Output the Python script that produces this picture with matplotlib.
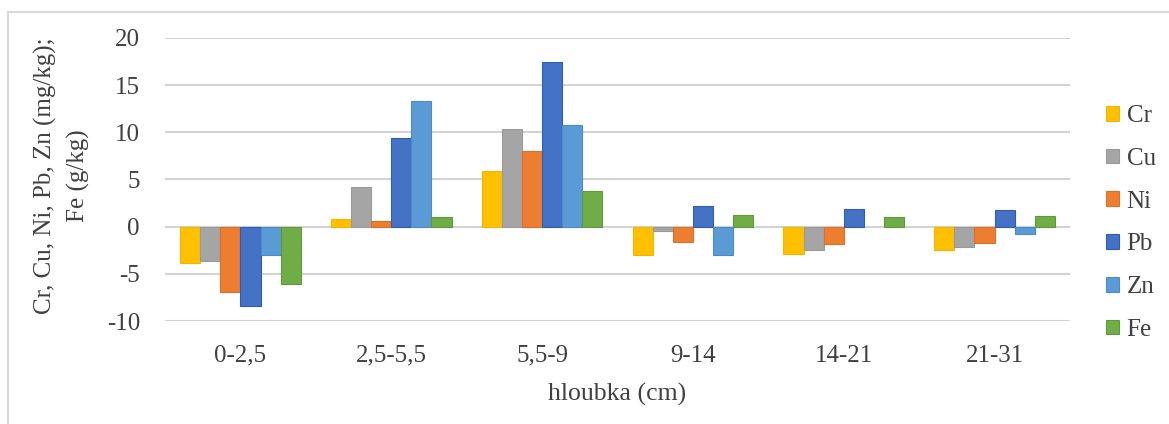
import numpy as np
import matplotlib
matplotlib.use("Agg")
import matplotlib.pyplot as plt
from matplotlib.lines import Line2D

# hloubkové intervaly a odchylky prvků
hloubky = ["0-2,5", "2,5-5,5", "5,5-9", "9-14", "14-21", "21-31"]
prvky = ["Cr", "Cu", "Ni", "Pb", "Zn", "Fe"]
cr = [-3.85, 0.77, 5.95, -3.0, -2.93, -2.46]
cu = [-3.64, 4.2, 10.35, -0.5, -2.46, -2.15]
ni = [-6.9, 0.55, 8.0, -1.58, -1.83, -1.72]
pb = [-8.4, 9.4, 17.5, 2.18, 1.86, 1.76]
zn = [-2.96, 13.3, 10.8, -3.0, 0.0, -0.83]
fe = [-6.04, 0.98, 3.78, 1.19, 0.98, 1.08]
hodnoty = [cr, cu, ni, pb, zn, fe]

barvy = ["#FFC000", "#A5A5A5", "#ED7D31", "#4472C4", "#5B9BD5", "#70AD47"]
okraje = ["#F2B600", "#9A9A9A", "#DF6F25", "#2F5DAF", "#4A8BC8", "#5F9A3A"]

plt.rcParams["font.family"] = ["Liberation Serif", "DejaVu Serif"]
plt.rcParams["axes.unicode_minus"] = False
fs = 18
txt = "#404040"

fig = plt.figure(figsize=(11.69, 4.24), dpi=100)
ax = fig.add_axes([165 / 1169, 1 - 321 / 424, 905 / 1169, 283 / 424])

x = np.arange(len(hloubky))
w = 1 / 7.5
for i, (nazev, data) in enumerate(zip(prvky, hodnoty)):
    sl = ax.bar(x + (i - 2.5) * w, data, width=w, color=barvy[i], edgecolor=okraje[i],
                linewidth=0.8, label=nazev, zorder=3)
    for b in sl:
        if b.get_height() == 0:
            b.set_edgecolor("none")

ax.set_xlim(-0.5, len(hloubky) - 0.5)
ax.set_ylim(-10, 20)
ax.set_yticks(np.arange(-10, 21, 5))
ax.set_xticks(x)
ax.set_xticklabels(hloubky)
ax.yaxis.grid(True, color="#D3D3D3", linewidth=1.5, zorder=0)
ax.set_axisbelow(True)
for s in ax.spines.values():
    s.set_visible(False)
ax.tick_params(axis="both", length=0, labelsize=fs, colors=txt)
ax.tick_params(axis="y", pad=18)
ax.tick_params(axis="x", pad=17)

ax.set_xlabel("hloubka (cm)", fontsize=fs + 0.5, color=txt, labelpad=12)
fig.text(62 / 1169, 1 - 176 / 424, "Cr, Cu, Ni, Pb, Zn (mg/kg);\nFe (g/kg)",
         rotation=90, ha="center", va="center", multialignment="center",
         fontsize=fs, color=txt, linespacing=1.55)

leg = fig.legend(loc="center left", bbox_to_anchor=(1106 / 1169, 1 - 223 / 424),
                 frameon=False, fontsize=fs, handlelength=0.52, handleheight=0.52,
                 handletextpad=0.3, labelspacing=0.83, borderpad=0, borderaxespad=0)
for t in leg.get_texts():
    t.set_color(txt)

# rámeček grafu (levá a horní hrana)
fig.add_artist(Line2D([8 / 1169, 8 / 1169], [0, 1 - 12 / 424], transform=fig.transFigure,
                      color="#D9D9D9", linewidth=1.5))
fig.add_artist(Line2D([8 / 1169, 1], [1 - 12 / 424, 1 - 12 / 424], transform=fig.transFigure,
                      color="#D9D9D9", linewidth=1.5))

fig.savefig("out.png", dpi=100)
